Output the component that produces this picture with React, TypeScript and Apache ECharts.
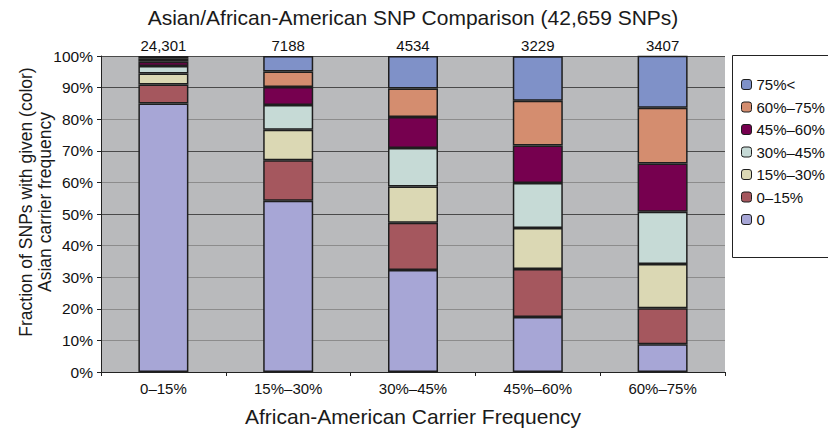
import React, { useEffect, useRef } from "react";
import * as echarts from "echarts";

const categories = ["0–15%", "15%–30%", "30%–45%", "45%–60%", "60%–75%"];
const counts = ["24,301", "7188", "4534", "3229", "3407"];
const seriesNames = ["0", "0–15%", "15%–30%", "30%–45%", "45%–60%", "60%–75%", "75%<"];
const s0 = [85.0, 54.2, 32.3, 17.4, 8.8];
const s0to15 = [6.0, 12.8, 14.9, 15.2, 11.4];
const s15to30 = [3.5, 9.7, 11.5, 13.0, 14.0];
const s30to45 = [2.3, 7.8, 12.2, 14.2, 16.5];
const s45to60 = [1.4, 5.7, 9.8, 11.9, 15.3];
const s60to75 = [0.9, 4.9, 9.0, 14.1, 17.6];
const s75up = [0.9, 4.9, 10.3, 14.1, 16.5];
const seriesValues = [s0, s0to15, s15to30, s30to45, s45to60, s60to75, s75up];
const colors = ["#a7a6d6", "#a5575e", "#dbd8b4", "#c6dad6", "#76004f", "#d48d6f", "#7f91c8"];

const FONT = "'Liberation Sans', Arial, sans-serif";

export default function App() {
  const ref = useRef<HTMLDivElement>(null);
  useEffect(() => {
    if (!ref.current) return;
    const chart = echarts.init(ref.current, undefined, { renderer: "svg" });
    const series = seriesNames.map((name, i) => ({
      name,
      type: "bar",
      stack: "total",
      barWidth: 50,
      data: seriesValues[i],
      itemStyle: { color: colors[i], borderColor: "#1e1e1e", borderWidth: 1.5 },
      label:
        i === seriesNames.length - 1
          ? {
              show: true,
              position: "top",
              distance: 3,
              formatter: (p: any) => counts[p.dataIndex],
              color: "#111",
              fontSize: 15,
              fontFamily: FONT,
            }
          : { show: false },
    }));
    const gridColors = ["#333", "#8c8c8c", "#8c8c8c", "#8c8c8c", "#8c8c8c", "#4a4a4a", "#8c8c8c", "#4a4a4a", "#8c8c8c", "#4a4a4a", "#4a4a4a"];
    chart.setOption({
      animation: false,
      backgroundColor: "#ffffff",
      textStyle: { fontFamily: FONT },
      title: {
        text: "Asian/African-American SNP Comparison (42,659 SNPs)",
        left: 408,
        textAlign: "center",
        top: 2,
        textStyle: { fontSize: 21, fontWeight: "normal", color: "#1a1a1a", fontFamily: FONT },
      },
      graphic: [
        {
          type: "rect",
          shape: { x: 732.5, y: 55.5, width: 130, height: 202 },
          style: { fill: "#fff", stroke: "#222", lineWidth: 1 },
          z: -1,
          silent: true,
        },
      ],
      legend: {
        data: seriesNames.slice().reverse(),
        orient: "vertical",
        left: 732,
        top: 55,
        padding: [22, 20, 29, 9],
        itemGap: 7.5,
        itemWidth: 10,
        itemHeight: 10,
        itemStyle: { borderColor: "#1e1e1e", borderWidth: 1 },
        borderWidth: 0,
        textStyle: { fontSize: 15, color: "#111", fontFamily: FONT, lineHeight: 15, padding: [0, 0, 0, 0] },
      },
      grid: {
        left: 101,
        right: 103,
        top: 56,
        bottom: 56,
        show: true,
        backgroundColor: "#b9babc",
        borderWidth: 0,
        outerBoundsMode: "none",
        containLabel: false,
      },
      xAxis: {
        type: "category",
        data: categories,
        name: "African-American Carrier Frequency",
        nameLocation: "middle",
        nameGap: 34,
        nameMoveOverlap: false,
        nameTextStyle: { fontSize: 21, color: "#1a1a1a", fontFamily: FONT },
        axisLine: { show: true, lineStyle: { color: "#222", width: 1 } },
        axisTick: { show: true, length: 4, lineStyle: { color: "#222" } },
        axisLabel: { fontSize: 15, color: "#111", margin: 9, fontFamily: FONT },
      },
      yAxis: {
        type: "value",
        min: 0,
        max: 100,
        interval: 10,
        name: "Fraction of SNPs with given (color)\nAsian carrier frequency",
        nameLocation: "middle",
        nameGap: 47,
        nameMoveOverlap: false,
        nameTextStyle: { fontSize: 17.5, color: "#1a1a1a", lineHeight: 19, fontFamily: FONT, padding: [0, 0, 0, 24] },
        axisLine: { show: true, lineStyle: { color: "#222", width: 1 } },
        axisTick: { show: true, length: 4, lineStyle: { color: "#222" } },
        axisLabel: { formatter: "{value}%", fontSize: 15.5, color: "#111", margin: 8, fontFamily: FONT },
        splitLine: { show: true, lineStyle: { color: gridColors, width: 1 } },
      },
      series,
    });
    return () => chart.dispose();
  }, []);
  return <div ref={ref} style={{ width: 828, height: 428, position: "absolute", left: 0, top: 0 }} />;
}
